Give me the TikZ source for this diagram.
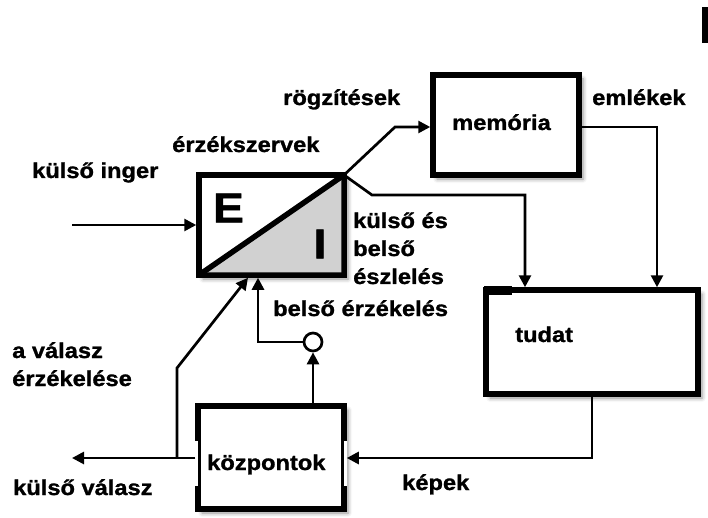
\documentclass[tikz,border=0pt]{standalone}
\usepackage{fontspec}
\setmainfont[FakeStretch=1.1,FakeBold=1.2]{Liberation Sans}
\usetikzlibrary{arrows.meta,shadows.blur}
\begin{document}
\begin{tikzpicture}[x=1pt,y=-1pt,
  box/.style={draw, line width=5.5pt, fill=white, inner sep=0pt,
    blur shadow={shadow xshift=4pt, shadow yshift=-4pt,
      shadow blur radius=4pt, shadow opacity=45}},
  wire/.style={line width=2.7pt},
  conn/.style={wire, -{Triangle[length=12pt,width=12pt]}},
  lbl/.style={font=\fontsize{21.5}{28}\selectfont\bfseries, inner sep=0pt, anchor=base west},
  big/.style={font=\fontsize{42}{42}\selectfont\bfseries, inner sep=0pt},
]
\useasboundingbox (0,0) rectangle (708,518);

% boxes
\node[box, minimum width=145pt, minimum height=100pt] (ei) at (271.5,225) {};
\node[box, minimum width=146pt, minimum height=100pt] (mem) at (506,125) {};
\node[box, minimum width=212pt, minimum height=104pt] (tudat) at (592,342) {};
\node[box, minimum width=146pt, minimum height=103pt] (kozp) at (271,457.5) {};

% thinner middle stretch on the side edges of the centres box
\fill[white] (195.2,441) rectangle (197.6,486);
\fill[white] (344.4,441) rectangle (346.8,486);

% split sense organ box: shaded inner part and diagonal
\fill[black!18] (201.75,272.25) -- (341.25,272.25) -- (341.25,177.75) -- cycle;
\draw[line width=5.5pt] (199,275) -- (344,175);
\node[big] (E) at (228.5,208) {E};
\node[big] (I) at (320,244) {I};

% heavier stub on the top edge of the consciousness box
\draw[line width=9pt] (484,290.5) -- (512,290.5);

% corner mark at the top right
\fill (702,7) rectangle (708,43);

% junction circle
\node[draw, circle, wire, minimum size=18pt, inner sep=0pt, fill=white] (circ) at (313,342) {};

% connectors
\coordinate (eiTR) at (344,175);
\coordinate (rg) at (395,127);
\draw[conn] (eiTR) -- (rg) -- (mem.west |- rg);

\coordinate (kb) at (372,195);
\coordinate (kc) at (525,195);
\draw[conn] (eiTR) -- (kb) -- (kc) -- (kc |- tudat.north);

\coordinate (em) at (657,127);
\draw[conn] (mem.east |- em) -- (em) -- (em |- tudat.north);

\coordinate (kp) at (592,458);
\draw[conn] (tudat.south -| kp) -- (kp) -- (kozp.east |- kp);

\coordinate (kv) at (72,458);
\draw[conn] (kozp.west |- kv) -- (kv);

\coordinate (br) at (177,458);
\coordinate (bk) at (177,368);
\coordinate (bt) at (248,300);
\draw[conn] (br) -- (bk) -- (bt |- ei.south);

\coordinate (ki) at (72,225);
\draw[conn] (ki) -- (ki -| ei.west);

\draw[conn] (kozp.north -| circ) -- (circ.south);
\coordinate (bs) at (258,342);
\draw[conn] (circ.west) -- (bs) -- (bs |- ei.south);

% labels
\node[lbl] (tMem) at (452,130) {memória};
\node[lbl] (tTud) at (515,342) {tudat};
\node[lbl] (tKoz) at (207,470) {központok};
\node[lbl] (lInger) at (32,178) {külső inger};
\node[lbl] (lSzerv) at (172,152) {érzékszervek};
\node[lbl] (lRogz) at (283,105) {rögzítések};
\node[lbl] (lEml) at (592,105) {emlékek};
\node[lbl] (lKep) at (402,490) {képek};
\node[lbl] (lValasz) at (13,495) {külső válasz};
\node[lbl] (lBelso) at (273,316) {belső érzékelés};
\node[lbl] (lAval) at (12,358) {\begin{tabular}[t]{@{}l@{}}a válasz\\érzékelése\end{tabular}};
\node[lbl] (lKulso) at (353,228) {\begin{tabular}[t]{@{}l@{}}külső és\\belső\\észlelés\end{tabular}};
\end{tikzpicture}
\end{document}
